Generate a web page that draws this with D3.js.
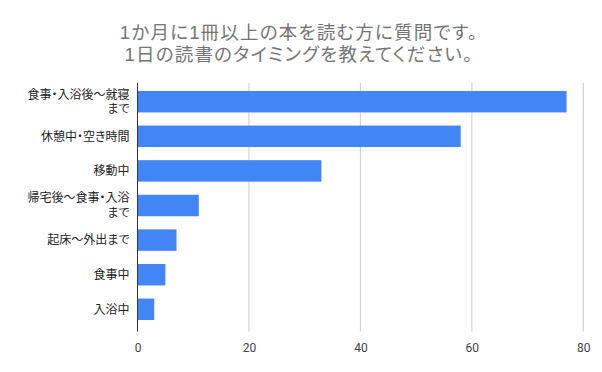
<!DOCTYPE html>
<html lang="ja">
<head>
<meta charset="utf-8">
<script src="https://cdn.jsdelivr.net/npm/d3@7"></script>
<style>
  body { margin: 0; background: #fff; }
  svg { font-family: "Liberation Sans", "Noto Sans CJK JP", sans-serif; }
</style>
</head>
<body>
<svg id="drawing_region"></svg>
<script>
const titleLines = ["1か月に1冊以上の本を読む方に質問です。", "1日の読書のタイミングを教えてください。"];
const categories = [
    ["食事・入浴後～就寝", "まで"],
    ["休憩中・空き時間"],
    ["移動中"],
    ["帰宅後～食事・入浴", "まで"],
    ["起床～外出まで"],
    ["食事中"],
    ["入浴中"]
];
const values = [77, 58, 33, 11, 7, 5, 3];
const xTicks = [0, 20, 40, 60, 80];

const config = {
    parent: '#drawing_region',
    width: 602,
    height: 372,
    margin: { left: 137.5, right: 18.7, top: 84.4, bottom: 45.4 }
};

const data = categories.map((c, i) => ({ label: c, value: values[i] }));

const svg = d3.select(config.parent)
    .attr('width', config.width)
    .attr('height', config.height);

// title
svg.append('g')
    .selectAll('text')
    .data(titleLines)
    .join('text')
    .attr('x', 299)
    .attr('y', (d, i) => 38.5 + i * 22)
    .attr('text-anchor', 'middle')
    .attr('fill', '#757575')
    .style('font-size', '18.5px')
    .style('letter-spacing', '1.2px')
    .style('font-feature-settings', '"palt"')
    .text(d => d);

const m = config.margin;
const innerW = config.width - m.left - m.right;
const innerH = config.height - m.top - m.bottom;

const chart = svg.append('g')
    .attr('transform', `translate(${m.left}, ${m.top})`);

const xscale = d3.scaleLinear()
    .domain([0, 80])
    .range([0, innerW]);

const yscale = d3.scaleBand()
    .domain(d3.range(categories.length))
    .range([0, innerH])
    .paddingInner(0.38)
    .paddingOuter(0.19);

// grid lines
chart.append('g')
    .selectAll('line')
    .data(xTicks.filter(d => d > 0))
    .join('line')
    .attr('x1', d => xscale(d))
    .attr('x2', d => xscale(d))
    .attr('y1', -1.5)
    .attr('y2', innerH + 5)
    .attr('stroke', '#cccccc')
    .attr('stroke-width', 1);

// bars
chart.append('g')
    .selectAll('rect')
    .data(data)
    .join('rect')
    .attr('x', 0)
    .attr('y', (d, i) => yscale(i))
    .attr('width', d => xscale(d.value))
    .attr('height', yscale.bandwidth())
    .attr('fill', '#4285f4');

// x axis tick labels
const xaxis = chart.append('g')
    .attr('transform', `translate(0, ${innerH + 5})`)
    .call(d3.axisBottom(xscale).tickValues(xTicks).tickSize(0).tickPadding(12));
xaxis.select('.domain').remove();
xaxis.selectAll('text')
    .attr('fill', '#444')
    .style('font-family', 'Roboto, "Noto Sans", sans-serif')
    .style('font-size', '12px');

// baseline axis
chart.append('line')
    .attr('x1', 0).attr('x2', 0)
    .attr('y1', -1.5).attr('y2', innerH + 5)
    .attr('stroke', '#333')
    .attr('stroke-width', 1);

// category labels
const labels = chart.append('g')
    .selectAll('text')
    .data(data)
    .join('text')
    .attr('text-anchor', 'end')
    .attr('fill', '#222')
    .style('font-size', '12px')
    .style('font-feature-settings', '"palt"')
    .attr('transform', (d, i) => `translate(-8, ${yscale(i) + yscale.bandwidth() / 2})`);

labels.selectAll('tspan')
    .data(d => d.label.map((t, j) => ({ t: t, j: j, n: d.label.length })))
    .join('tspan')
    .attr('x', 0)
    .attr('y', d => (d.j - (d.n - 1) / 2) * 14.5)
    .attr('dy', '0.35em')
    .text(d => d.t);
</script>
</body>
</html>
